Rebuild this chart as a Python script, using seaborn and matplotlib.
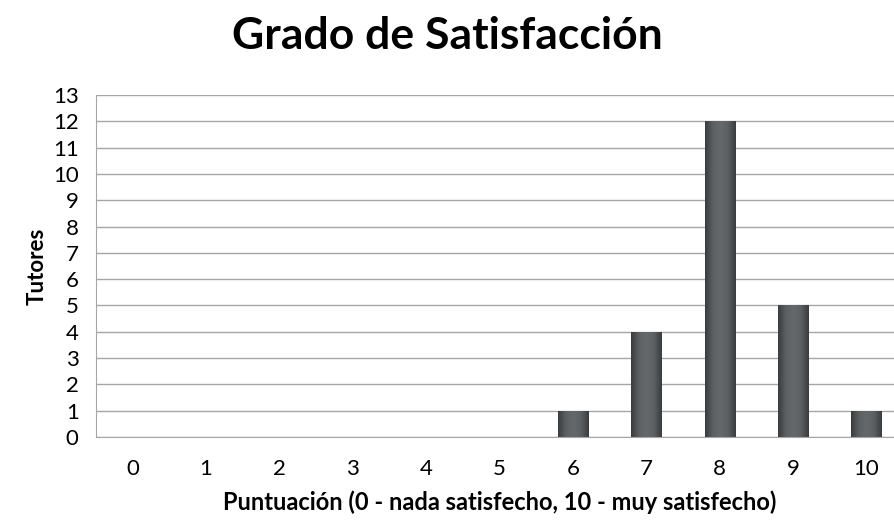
import numpy as np
import pandas as pd
import seaborn as sns
from matplotlib import pyplot as plt
from matplotlib.ticker import FixedLocator
from matplotlib.colors import LinearSegmentedColormap

# Data
puntuacion = [str(i) for i in range(11)]
tutores = [0, 0, 0, 0, 0, 0, 1, 4, 12, 5, 1]
y_ticks = list(range(0, 14))

df = pd.DataFrame({"Puntuacion": puntuacion, "Tutores": tutores})

sns.set_style("white")
plt.rcParams['font.family'] = ['Lato', 'DejaVu Sans']
plt.rcParams['text.color'] = 'black'

fig = plt.figure(figsize=(8.94, 5.25), dpi=100)
ax = fig.add_axes([96 / 894, 88 / 525, 807 / 894, 342 / 525])

sns.barplot(data=df, x="Puntuacion", y="Tutores", color="#575b5e",
            width=0.41, linewidth=0, saturation=1, ax=ax)

# shaded look on the bars (darker sides, lighter middle)
bar_cmap = LinearSegmentedColormap.from_list(
    "bevel", ["#3a3d3f", "#5c6062", "#65696b", "#5c6062", "#3a3d3f"])
grad = np.linspace(0, 1, 64).reshape(1, -1)
for p in ax.patches:
    h = p.get_height()
    if h <= 0:
        continue
    x0 = p.get_x()
    w = p.get_width()
    im = ax.imshow(grad, cmap=bar_cmap, aspect='auto',
                   extent=[x0, x0 + w, 0, h], zorder=p.get_zorder() + 0.1)
    im.set_clip_path(p)

ax.set_ylim(0, 13)
ax.set_xlim(-0.5, 10.5)
ax.set_yticks(y_ticks)
ax.yaxis.grid(True, color="#a6a6a6", linewidth=1)
ax.set_axisbelow(True)

# tick marks between categories
ax.xaxis.set_minor_locator(FixedLocator(np.arange(0.5, 10.5, 1)))
ax.tick_params(axis='x', which='major', length=0, labelsize=16, pad=16,
               labelcolor='black')
ax.tick_params(axis='x', which='minor', length=7, width=1, color="#a6a6a6", direction='out')
ax.tick_params(axis='y', length=7.5, width=1, color="#a6a6a6", labelsize=16, pad=5,
               labelcolor='black')

for side in ['top', 'right']:
    ax.spines[side].set_visible(False)
ax.spines['left'].set_color("#a6a6a6")
ax.spines['bottom'].set_color("#a6a6a6")

ax.set_xlabel('Puntuación (0 - nada satisfecho, 10 - muy satisfecho)',
              fontsize=17, fontweight='bold', labelpad=8, color='black')
ax.set_ylabel('Tutores', fontsize=16, fontweight='bold', labelpad=4, color='black')

fig.suptitle('Grado de Satisfacción', fontsize=32, fontweight='bold', y=0.97,
             color='black')

plt.savefig('out.png', dpi=100)
